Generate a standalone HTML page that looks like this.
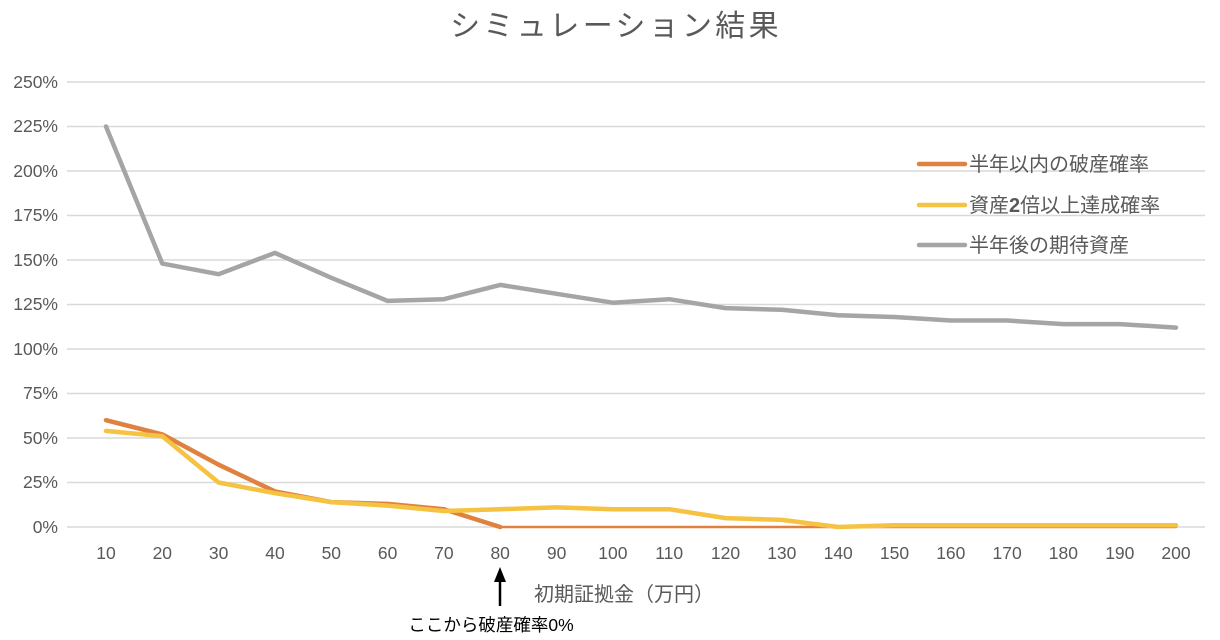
<!DOCTYPE html>
<html><head><meta charset="utf-8"><style>
body{margin:0;background:#fff;}
svg text{font-family:"Liberation Sans","Noto Sans CJK JP",sans-serif;}
</style></head><body>
<svg width="1220" height="635" viewBox="0 0 1220 635" xmlns="http://www.w3.org/2000/svg">
<text x="616" y="36" text-anchor="middle" font-size="30" fill="#595959" letter-spacing="3.3">シミュレーション結果</text>
<g stroke="#d9d9d9" stroke-width="1.5">
<line x1="67" x2="1205" y1="82" y2="82"/><line x1="67" x2="1205" y1="126.5" y2="126.5"/>
<line x1="67" x2="1205" y1="171" y2="171"/><line x1="67" x2="1205" y1="215.5" y2="215.5"/>
<line x1="67" x2="1205" y1="260" y2="260"/><line x1="67" x2="1205" y1="304.5" y2="304.5"/>
<line x1="67" x2="1205" y1="349" y2="349"/><line x1="67" x2="1205" y1="393.5" y2="393.5"/>
<line x1="67" x2="1205" y1="438" y2="438"/><line x1="67" x2="1205" y1="482.5" y2="482.5"/>
<line x1="67" x2="1205" y1="527" y2="527"/>
</g>
<g font-size="17.5" fill="#595959" text-anchor="end">
<text x="58" y="88">250%</text><text x="58" y="132">225%</text><text x="58" y="177">200%</text>
<text x="58" y="221">175%</text><text x="58" y="266">150%</text><text x="58" y="310">125%</text>
<text x="58" y="355">100%</text><text x="58" y="399">75%</text><text x="58" y="444">50%</text>
<text x="58" y="488">25%</text><text x="58" y="533">0%</text>
</g>
<g font-size="17.5" fill="#595959" text-anchor="middle">
<text x="106" y="559">10</text><text x="162.3" y="559">20</text><text x="218.6" y="559">30</text>
<text x="275" y="559">40</text><text x="331.3" y="559">50</text><text x="387.6" y="559">60</text>
<text x="443.9" y="559">70</text><text x="500.2" y="559">80</text><text x="556.6" y="559">90</text>
<text x="612.9" y="559">100</text><text x="669.2" y="559">110</text><text x="725.5" y="559">120</text>
<text x="781.8" y="559">130</text><text x="838.2" y="559">140</text><text x="894.5" y="559">150</text>
<text x="950.8" y="559">160</text><text x="1007.1" y="559">170</text><text x="1063.4" y="559">180</text>
<text x="1119.8" y="559">190</text><text x="1176" y="559">200</text>
</g>
<g fill="none" stroke-width="4.5" stroke-linejoin="round" stroke-linecap="round">
<polyline stroke="#a5a5a5" points="106,126.5 162.3,263.6 218.6,274.2 275,252.9 331.3,277.8 387.6,300.9 443.9,299.2 500.2,284.9 556.6,293.8 612.9,302.7 669.2,299.2 725.5,308.1 781.8,309.8 838.2,315.2 894.5,317 950.8,320.5 1007.1,320.5 1063.4,324.1 1119.8,324.1 1176,327.6"/>
<polyline stroke="#e0823f" points="106,420.2 162.3,434.4 218.6,464.7 275,491.4 331.3,502.1 387.6,503.9 443.9,509.2 500.2,527"/>
<polyline stroke="#e0823f" stroke-width="2.5" points="500.2,527 1176,527"/>
<polyline stroke="#f5c242" points="106,430.9 162.3,436.2 218.6,482.5 275,493.2 331.3,502.1 387.6,505.6 443.9,511 500.2,509.2 556.6,507.4 612.9,509.2 669.2,509.2 725.5,518.1 781.8,519.9 838.2,527 894.5,525.2 950.8,525.2 1007.1,525.2 1063.4,525.2 1119.8,525.2 1176,525.2"/>
</g>
<g stroke-width="4.5" stroke-linecap="round">
<line x1="919" x2="965" y1="164" y2="164" stroke="#e0823f"/>
<line x1="919" x2="965" y1="205" y2="205" stroke="#f5c242"/>
<line x1="919" x2="965" y1="245" y2="245" stroke="#a5a5a5"/>
</g>
<g font-size="20" fill="#595959">
<text x="969" y="171">半年以内の破産確率</text>
<text x="969" y="212">資産<tspan font-weight="bold">2</tspan>倍以上達成確率</text>
<text x="969" y="252">半年後の期待資産</text>
</g>
<text x="534" y="601" font-size="20" fill="#595959">初期証拠金（万円）</text>
<line x1="500" x2="500" y1="606" y2="580" stroke="#000" stroke-width="2.5"/>
<polygon points="500,567 494,582 506,582" fill="#000"/>
<text x="491" y="631" font-size="17.5" fill="#000" text-anchor="middle">ここから破産確率0%</text>
</svg>
</body></html>
